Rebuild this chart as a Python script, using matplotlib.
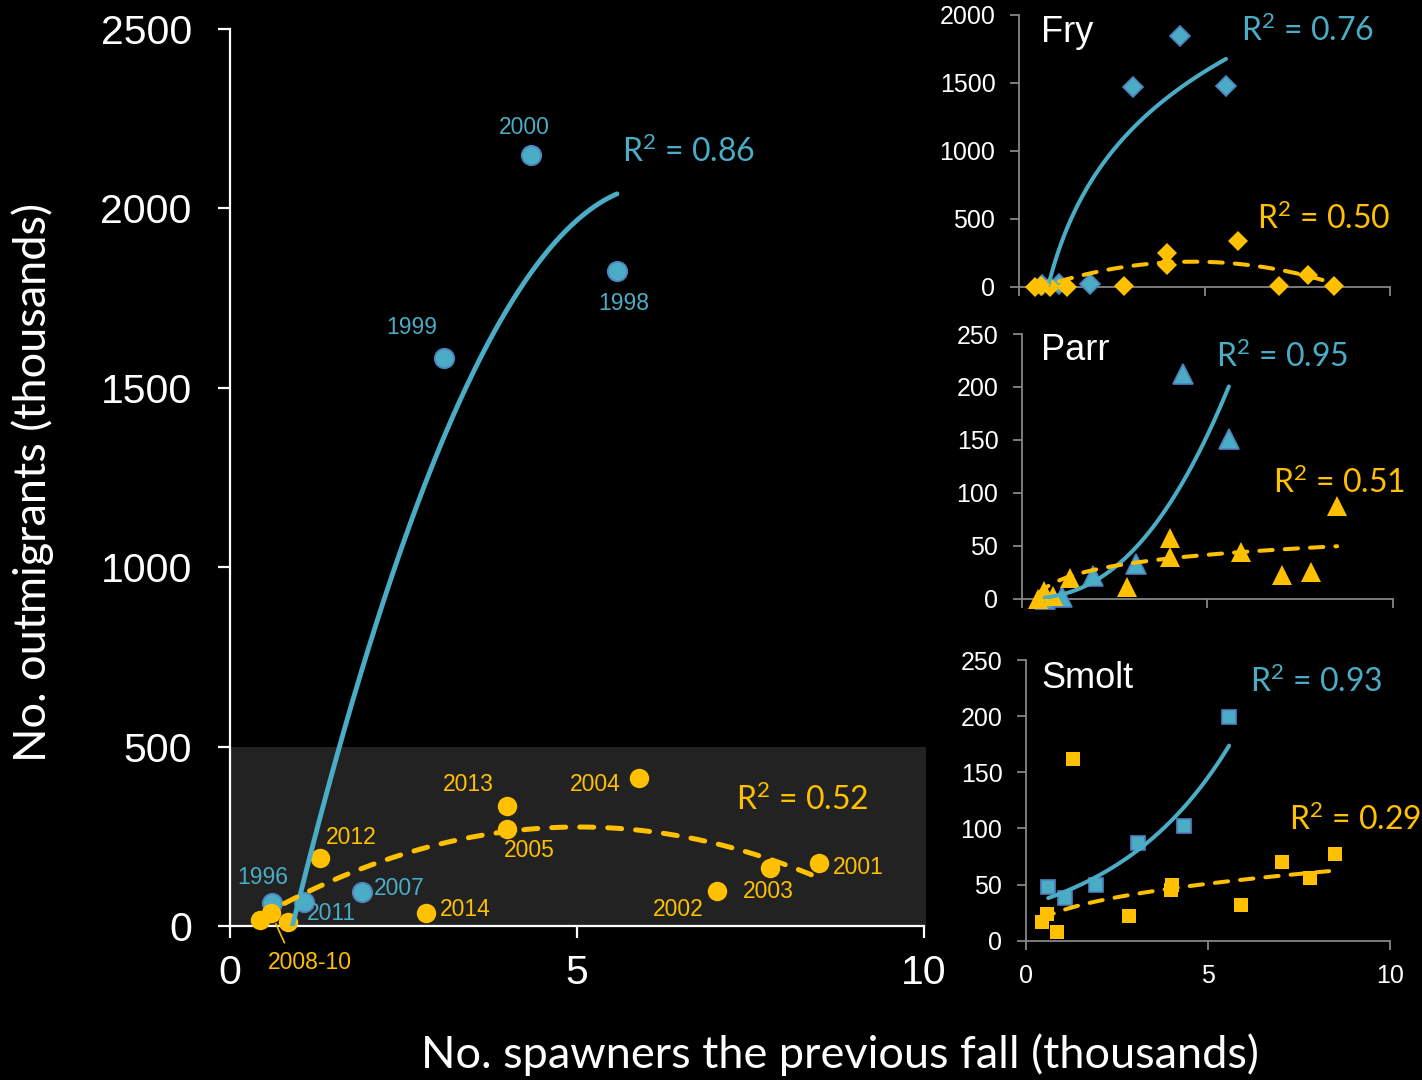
import numpy as np
import matplotlib
matplotlib.use("Agg")
import matplotlib.pyplot as plt
from matplotlib.patches import Rectangle

# ---- data (thousands) ----
# brood years with high spawner returns (blue) and the remaining years (gold)
blue_years = ["1996", "1998", "1999", "2000", "2007", "2011"]
blue_spawners = [0.61, 5.58, 3.08, 4.34, 1.91, 1.07]
gold_years = ["2001", "2002", "2003", "2004", "2005", "2008", "2009", "2010",
              "2012", "2013", "2014"]
gold_spawners = [8.50, 7.02, 7.79, 5.90, 4.00, 0.43, 0.59, 0.84, 1.30, 3.99, 2.83]

# total outmigrants
blue_total = [64, 1826, 1584, 2149, 95, 67]
gold_total = [175, 97, 161, 412, 270, 17, 36, 11, 189, 334, 36]
# by life stage
blue_fry = [15, 1478, 1471, 1846, 22, 22]
gold_fry = [7, 7, 88, 338, 162, 0, 7, 0, 0, 250, 7]
blue_parr = [0, 151, 33, 212, 21, 2]
gold_parr = [88, 22, 25, 44, 57, 0, 7, 3, 20, 39, 11]
blue_smolt = [48, 199, 87, 102, 50, 38]
gold_smolt = [77, 70, 56, 32, 50, 17, 24, 8, 162, 45, 22]

# trend line coefficients
total_blue_poly = [-75.2, 923.3, -770.0]       # quadratic
total_gold_poly = [-11.83, 118.97, -23.17]     # quadratic
fry_blue_log = [852.4, 211.6]                  # a*ln(x) + b
fry_gold_poly = [-11.1, 104.34, -59.1]         # quadratic
parr_blue_pow = [3.35, 2.38]                   # a*x^b
parr_gold_log = [15.1, 17.2]                   # a*ln(x) + b
smolt_blue_exp = [31.5, 0.306]                 # a*exp(b*x)
smolt_gold_pow = [27.06, 0.391]                # a*x^b

r2_total = ["0.86", "0.52"]
r2_fry = ["0.76", "0.50"]
r2_parr = ["0.95", "0.51"]
r2_smolt = ["0.93", "0.29"]

# ---- styling ----
BLUE = "#4BACC6"
BLUE_EDGE = "#4F81BD"
GOLD = "#FFC000"
GREY = "#868686"
ARIAL = ["Liberation Sans", "DejaVu Sans"]
CALIBRI = ["Lato", "DejaVu Sans"]

plt.rcParams["mathtext.fontset"] = "custom"
plt.rcParams["mathtext.rm"] = "Lato"
plt.rcParams["mathtext.it"] = "Lato:italic"
plt.rcParams["mathtext.bf"] = "Lato:bold"

W, H = 1422, 1080
fig = plt.figure(figsize=(W / 100, H / 100), dpi=100, facecolor="black")


def px_rect(x0, y0, x1, y1):
    """axes rectangle from pixel corners (x0, y_top) .. (x1, y_bottom)"""
    return [x0 / W, 1 - y1 / H, (x1 - x0) / W, (y1 - y0) / H]


def fx(x):
    return x / W


def fy(y):
    return 1 - y / H


def r2_text(value):
    return r"R$^{\mathrm{2}}$ = " + value


def curve(kind, coef, xs):
    xs = np.asarray(xs, float)
    if kind == "poly":
        return np.polyval(coef, xs)
    if kind == "log":
        return coef[0] * np.log(xs) + coef[1]
    if kind == "pow":
        return coef[0] * xs ** coef[1]
    if kind == "exp":
        return coef[0] * np.exp(coef[1] * xs)


def span(v):
    return np.linspace(min(v), max(v), 300)


# ---------------- main panel ----------------
ax = fig.add_axes(px_rect(230, 29, 923.5, 926))
ax.set_facecolor("black")
ax.set_xlim(0, 10)
ax.set_ylim(0, 2500)
ax.add_patch(Rectangle((0, 0), 10.03, 500, facecolor="#222222",
                       edgecolor="none", zorder=0, clip_on=False))

for s in ("top", "right"):
    ax.spines[s].set_visible(False)
for s in ("left", "bottom"):
    ax.spines[s].set_color("white")
    ax.spines[s].set_linewidth(1.6)
ax.set_xticks([0, 5, 10])
ax.set_yticks([0, 500, 1000, 1500, 2000, 2500])
ax.tick_params(axis="both", colors="white", direction="out", length=8.5,
               width=1.6, labelsize=29.5)
ax.tick_params(axis="y", pad=19)
ax.tick_params(axis="x", pad=12)
for lab in ax.get_xticklabels() + ax.get_yticklabels():
    lab.set_fontfamily(ARIAL)

ax.plot(blue_spawners, blue_total, "o", ms=14, mfc=BLUE, mec=BLUE_EDGE,
        mew=1.3, zorder=3, clip_on=False)
ax.plot(gold_spawners, gold_total, "o", ms=14, mfc=GOLD, mec=GOLD,
        mew=0, zorder=3, clip_on=False)

xb = span(blue_spawners)
ax.plot(xb, curve("poly", total_blue_poly, xb), color=BLUE, lw=3.5,
        solid_capstyle="round", zorder=4)
xg = span(gold_spawners)
ax.plot(xg, curve("poly", total_gold_poly, xg), color=GOLD, lw=3.6,
        dashes=(2.8, 2.8), dash_capstyle="round", zorder=4)

# year labels: offsets in pixels from each point
blue_offsets = {"1996": (-10, 26), "1998": (7, -33), "1999": (-32, 30),
                "2000": (-7, 27), "2007": (37, 3), "2011": (27, -12)}
gold_offsets = {"2001": (39, -4), "2002": (-39, -18), "2003": (-2, -23),
                "2004": (-44, -6), "2005": (22, -21), "2012": (31, 21),
                "2013": (-38, 22), "2014": (39, 4)}
for yr, x, y in zip(blue_years, blue_spawners, blue_total):
    dx, dy = blue_offsets[yr]
    ax.annotate(yr, (x, y), xytext=(dx * 0.72, dy * 0.72),
                textcoords="offset points", ha="center", va="center",
                color=BLUE, fontsize=16.5, fontfamily=ARIAL, zorder=6)
for yr, x, y in zip(gold_years, gold_spawners, gold_total):
    if yr in gold_offsets:
        dx, dy = gold_offsets[yr]
        ax.annotate(yr, (x, y), xytext=(dx * 0.72, dy * 0.72),
                    textcoords="offset points", ha="center", va="center",
                    color=GOLD, fontsize=16.5, fontfamily=ARIAL, zorder=6)
i09 = gold_years.index("2009")
ax.annotate("2008-10", (gold_spawners[i09], gold_total[i09]),
            xytext=(39 * 0.72, -49 * 0.72), textcoords="offset points",
            ha="center", va="center", color=GOLD, fontsize=16.5,
            fontfamily=ARIAL, annotation_clip=False, zorder=6,
            arrowprops=dict(arrowstyle="-", color=GOLD, lw=1.2,
                            relpos=(0.24, 1.0), shrinkA=4, shrinkB=8.5))

fig.text(fx(622), fy(152), r2_text(r2_total[0]), color=BLUE,
         fontsize=23, fontfamily=CALIBRI, ha="left", va="center")
fig.text(fx(736), fy(800), r2_text(r2_total[1]), color=GOLD,
         fontsize=23, fontfamily=CALIBRI, ha="left", va="center")

fig.text(fx(33), fy(482), "No. outmigrants (thousands)", color="white",
         fontsize=32.5, fontfamily=CALIBRI, rotation=90, ha="center",
         va="center")
fig.text(fx(840), fy(1055), "No. spawners the previous fall (thousands)",
         color="white", fontsize=32.5, fontfamily=CALIBRI, ha="center",
         va="center")


# ---------------- life-stage panels ----------------
def stage_panel(rect, ymax, ystep, show_xlabels, marker, ms,
                by, gy, bfit, gfit, r2, title, title_pos, r2_pos):
    a = fig.add_axes(px_rect(*rect))
    a.set_facecolor("black")
    a.set_xlim(0, 10)
    a.set_ylim(0, ymax)
    for s in ("top", "right"):
        a.spines[s].set_visible(False)
    for s in ("left", "bottom"):
        a.spines[s].set_color(GREY)
        a.spines[s].set_linewidth(1.3)
    a.set_xticks([0, 5, 10])
    a.set_yticks(np.arange(0, ymax + 1, ystep))
    a.tick_params(axis="both", colors=GREY, direction="out", length=6.5,
                  width=1.3, labelcolor="white", labelsize=18, pad=10.5)
    if not show_xlabels:
        a.set_xticklabels([])
    for lab in a.get_xticklabels() + a.get_yticklabels():
        lab.set_fontfamily(ARIAL)

    a.plot(blue_spawners, by, marker, ls="none", ms=ms, mfc=BLUE,
           mec=BLUE_EDGE, mew=1.2, zorder=3, clip_on=False)
    a.plot(gold_spawners, gy, marker, ls="none", ms=ms, mfc=GOLD,
           mec=GOLD, mew=0, zorder=3, clip_on=False)

    xb = span(blue_spawners)
    a.plot(xb, curve(bfit[0], bfit[1], xb), color=BLUE, lw=2.9,
           solid_capstyle="round", zorder=4)
    xg = span(gold_spawners)
    a.plot(xg, curve(gfit[0], gfit[1], xg), color=GOLD, lw=2.9,
           dashes=(3.3, 3.0), dash_capstyle="round", zorder=4)

    fig.text(fx(title_pos[0]), fy(title_pos[1]), title, color="white",
             fontsize=26, fontfamily=ARIAL, ha="left", va="center")
    fig.text(fx(r2_pos[0][0]), fy(r2_pos[0][1]), r2_text(r2[0]),
             color=BLUE, fontsize=23, fontfamily=CALIBRI, ha="left",
             va="center")
    fig.text(fx(r2_pos[1][0]), fy(r2_pos[1][1]), r2_text(r2[1]),
             color=GOLD, fontsize=23, fontfamily=CALIBRI, ha="left",
             va="center")
    return a


stage_panel((1019, 15, 1390, 287), 2000, 500, False, "D", 10,
            blue_fry, gold_fry, ("log", fry_blue_log), ("poly", fry_gold_poly),
            r2_fry, "Fry", (1041, 32), ((1241, 31), (1257, 219)))
stage_panel((1022, 334, 1392.7, 598.7), 250, 50, False, "^", 14,
            blue_parr, gold_parr, ("pow", parr_blue_pow), ("log", parr_gold_log),
            r2_parr, "Parr", (1041, 350), ((1216, 357), (1273, 483)))
stage_panel((1026, 660, 1390, 940.7), 250, 50, True, "s", 10.5,
            blue_smolt, gold_smolt, ("exp", smolt_blue_exp),
            ("pow", smolt_gold_pow),
            r2_smolt, "Smolt", (1041, 678), ((1250, 682), (1289, 820)))

fig.savefig("out.png", dpi=100, facecolor="black")
